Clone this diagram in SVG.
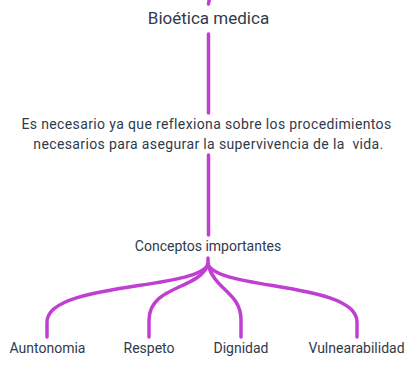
<svg xmlns="http://www.w3.org/2000/svg" width="412" height="377" viewBox="0 0 412 377">
<style>
.t{font-family:"Roboto","Liberation Sans",sans-serif;fill:#2f3a4b;text-anchor:middle}
.p{letter-spacing:0.37px;white-space:pre}
.c{fill:none;stroke:#c03fd2;stroke-linecap:round;stroke-width:3.5}
</style>
<rect width="412" height="377" fill="#ffffff"/>
<g id="connectors">
<path class="c" d="M209.5,-2 L208.5,4"/>
<path class="c" d="M208.5,34 L208.5,113"/>
<path class="c" d="M208.5,155 L208.5,235"/>
<path class="c" d="M208,258 L208,264 C200,290 47,282 47,322 L47,337"/>
<path class="c" d="M208,264 C200,290 149,285 149,320 L149,337"/>
<path class="c" d="M208,264 C214,290 241,292 241,320 L241,337"/>
<path class="c" d="M208,264 C216,290 357,282 357,322 L357,337"/>
</g>
<g id="n-bioetica"><text class="t" x="208.5" y="24" font-size="17">Bioética medica</text></g>
<g id="n-necesario"><text class="t p" x="206.5" y="129" font-size="14">Es necesario ya que reflexiona sobre los procedimientos</text><text class="t p" x="208.5" y="149" font-size="14" xml:space="preserve">necesarios para asegurar la supervivencia de la  vida.</text></g>
<g id="n-conceptos"><text class="t" x="208" y="251" font-size="14">Conceptos importantes</text></g>
<g id="n-autonomia"><text class="t" x="47.5" y="353" font-size="14">Auntonomia</text></g>
<g id="n-respeto"><text class="t" x="149" y="353" font-size="14">Respeto</text></g>
<g id="n-dignidad"><text class="t" x="241" y="353" font-size="14">Dignidad</text></g>
<g id="n-vulnerabilidad"><text class="t" x="356.5" y="353" font-size="14">Vulnearabilidad</text></g>
</svg>
